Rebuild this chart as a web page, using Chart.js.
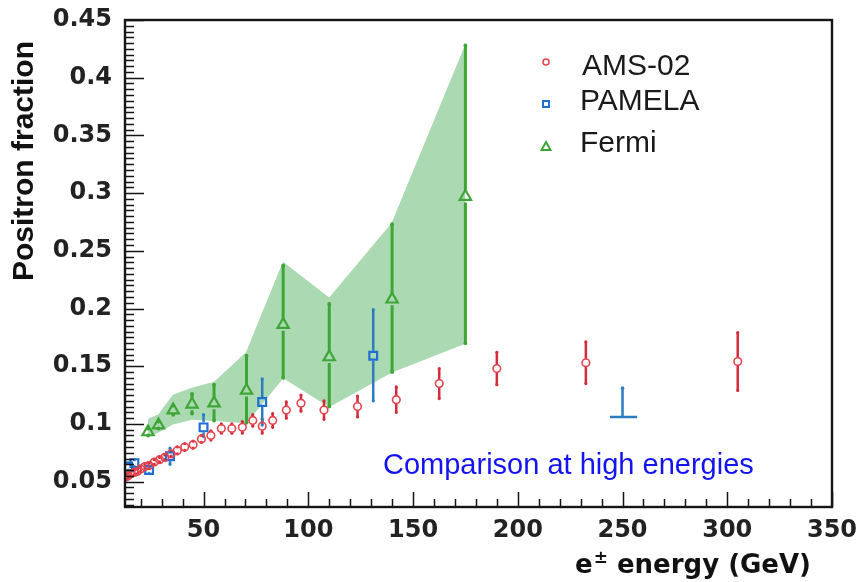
<!DOCTYPE html>
<html>
<head>
<meta charset="utf-8">
<title>Positron fraction</title>
<script src="https://cdn.jsdelivr.net/npm/chart.js@4.4.1/dist/chart.umd.min.js"></script>
<style>
  html, body { margin: 0; padding: 0; background: #fff; }
  canvas { display: block; }
</style>
</head>
<body>
<canvas id="chart" width="861" height="582"></canvas>
<script>
// AMS-02
const amsEnergy = [13, 14, 15.5, 17, 18.5, 20, 22, 24, 26.5, 29, 31.5, 34.5, 37.5, 41, 45, 49,
  53.5, 58.5, 63.5, 68.5, 73.5, 78, 83, 89.5, 96.5, 107.5, 123.5, 142, 162.5, 190, 232.5, 305];
const amsValue = [0.054, 0.055, 0.057, 0.058, 0.059, 0.061, 0.063, 0.064, 0.067, 0.069, 0.071, 0.074,
  0.077, 0.080, 0.082, 0.087, 0.090, 0.096, 0.096, 0.097, 0.103, 0.098, 0.103, 0.112, 0.118, 0.112,
  0.115, 0.121, 0.135, 0.148, 0.153, 0.154];
const amsError = [0.002, 0.002, 0.002, 0.002, 0.002, 0.002, 0.002, 0.002, 0.002, 0.002, 0.002, 0.002,
  0.003, 0.003, 0.003, 0.003, 0.004, 0.004, 0.004, 0.005, 0.005, 0.006, 0.006, 0.007, 0.007, 0.008,
  0.009, 0.011, 0.013, 0.014, 0.018, 0.025];

// PAMELA
const pamelaEnergy = [14, 17, 24, 34, 50, 78, 131];
const pamelaValue = [0.063, 0.066, 0.060, 0.072, 0.097, 0.119, 0.159];
const pamelaErrUp = [0.003, 0.003, 0.003, 0.007, 0.011, 0.020, 0.040];
const pamelaErrDown = [0.003, 0.003, 0.003, 0.007, 0.008, 0.020, 0.039];
// PAMELA 200-300 GeV bin (bar + arrow)
const pamelaLimitEnergy = 250;
const pamelaLimitBinLow = 244;
const pamelaLimitBinHigh = 257;
const pamelaLimitValue = 0.106;
const pamelaLimitTop = 0.131;

// Fermi
const fermiEnergy = [23.5, 28.5, 35.5, 44.5, 55, 70.5, 88, 110, 140, 175];
const fermiValue = [0.093, 0.099, 0.112, 0.117, 0.118, 0.129, 0.186, 0.158, 0.208, 0.297];
const fermiErrUp = [0.003, 0.003, 0.004, 0.009, 0.016, 0.030, 0.051, 0.046, 0.065, 0.131];
const fermiErrDown = [0.003, 0.003, 0.004, 0.008, 0.015, 0.028, 0.046, 0.043, 0.063, 0.127];
const fermiBandHigh = [0.104, 0.108, 0.125, 0.131, 0.136, 0.162, 0.240, 0.209, 0.274, 0.428];
const fermiBandLow = [0.089, 0.093, 0.100, 0.104, 0.103, 0.101, 0.140, 0.115, 0.145, 0.170];

// axes
const xTicks = [50, 100, 150, 200, 250, 300, 350];
const yTicks = [0.05, 0.1, 0.15, 0.2, 0.25, 0.3, 0.35, 0.4, 0.45];

const amsColor = '#e5434c';
const amsBarColor = '#d42c3c';
const pamelaColor = '#1d6fd4';
const pamelaBarColor = '#2b7cc0';
const fermiColor = '#3ea636';
const bandColor = '#abd9b2';

const toPoints = (xs, ys) => xs.map((v, i) => ({ x: v, y: ys[i] }));

// vertical error bar, leaving a gap where the marker sits
const drawBar = (ctx, px, yLow, yHigh, yMid, gap, color, width) => {
  ctx.strokeStyle = color;
  ctx.fillStyle = color;
  ctx.lineWidth = width;
  ctx.beginPath();
  if (yHigh < yMid - gap) { ctx.moveTo(px, yHigh); ctx.lineTo(px, yMid - gap); }
  if (yLow > yMid + gap) { ctx.moveTo(px, yMid + gap); ctx.lineTo(px, yLow); }
  ctx.stroke();
  ctx.beginPath();
  ctx.arc(px, yHigh, width * 0.65, 0, Math.PI * 2);
  ctx.arc(px, yLow, width * 0.65, 0, Math.PI * 2);
  ctx.fill();
};

const errorBarPlugin = {
  id: 'errorBars',
  beforeDatasetDraw(chart, args) {
    if (args.index !== 2) return; // after the band, before the markers
    const { ctx, scales: { x, y } } = chart;
    ctx.save();
    amsEnergy.forEach((e, i) => {
      drawBar(ctx, x.getPixelForValue(e), y.getPixelForValue(amsValue[i] - amsError[i]),
        y.getPixelForValue(amsValue[i] + amsError[i]), y.getPixelForValue(amsValue[i]), 4, amsBarColor, 2.5);
    });
    pamelaEnergy.forEach((e, i) => {
      drawBar(ctx, x.getPixelForValue(e), y.getPixelForValue(pamelaValue[i] - pamelaErrDown[i]),
        y.getPixelForValue(pamelaValue[i] + pamelaErrUp[i]), y.getPixelForValue(pamelaValue[i]), 5, pamelaBarColor, 2.5);
    });
    fermiEnergy.forEach((e, i) => {
      drawBar(ctx, x.getPixelForValue(e), y.getPixelForValue(fermiValue[i] - fermiErrDown[i]),
        y.getPixelForValue(fermiValue[i] + fermiErrUp[i]), y.getPixelForValue(fermiValue[i]), 6, fermiColor, 3);
    });
    // PAMELA last bin
    const lx = x.getPixelForValue(pamelaLimitEnergy);
    const ly = y.getPixelForValue(pamelaLimitValue);
    ctx.strokeStyle = pamelaBarColor;
    ctx.lineWidth = 2.5;
    ctx.beginPath();
    ctx.moveTo(x.getPixelForValue(pamelaLimitBinLow), ly);
    ctx.lineTo(x.getPixelForValue(pamelaLimitBinHigh), ly);
    ctx.moveTo(lx, ly);
    ctx.lineTo(lx, y.getPixelForValue(pamelaLimitTop));
    ctx.stroke();
    ctx.fillStyle = pamelaBarColor;
    ctx.beginPath();
    ctx.arc(lx, y.getPixelForValue(pamelaLimitTop), 1.8, 0, Math.PI * 2);
    ctx.fill();
    ctx.restore();
  }
};

// ROOT style frame with inward ticks
const framePlugin = {
  id: 'frame',
  afterDatasetsDraw(chart) {
    const { ctx, chartArea: a, scales: { x, y } } = chart;
    ctx.save();
    ctx.strokeStyle = '#151515';
    ctx.lineWidth = 1.5;
    ctx.beginPath();
    for (let k = Math.ceil(y.min / 0.005); k * 0.005 <= y.max + 1e-9; k++) {
      const py = Math.round(y.getPixelForValue(k * 0.005)) + 0.5;
      const len = k % 10 === 0 ? 19 : 9;
      ctx.moveTo(a.left, py);
      ctx.lineTo(a.left + len, py);
    }
    for (let k = Math.ceil(x.min / 10); k * 10 <= x.max; k++) {
      const px = Math.round(x.getPixelForValue(k * 10)) + 0.5;
      const len = k % 5 === 0 ? 15 : 8;
      ctx.moveTo(px, a.bottom);
      ctx.lineTo(px, a.bottom - len);
    }
    ctx.stroke();
    ctx.lineWidth = 2.4;
    ctx.strokeRect(a.left, a.top, a.right - a.left, a.bottom - a.top);
    ctx.restore();
  }
};

const textPlugin = {
  id: 'texts',
  afterDraw(chart) {
    const { ctx } = chart;
    ctx.save();
    ctx.fillStyle = '#111';
    // y title
    ctx.save();
    ctx.translate(33, 161);
    ctx.rotate(-Math.PI / 2);
    ctx.font = 'bold 30px "Liberation Sans", Arial, sans-serif';
    ctx.textAlign = 'center';
    ctx.textBaseline = 'alphabetic';
    ctx.fillText('Positron fraction', 0, 0);
    ctx.restore();

    // x title
    ctx.textAlign = 'left';
    ctx.textBaseline = 'alphabetic';
    let tx = 575;
    ctx.font = 'bold 26px "DejaVu Sans", sans-serif';
    ctx.fillText('e', tx, 573);
    tx += ctx.measureText('e').width + 1;
    ctx.font = 'bold 17px "DejaVu Sans", sans-serif';
    ctx.fillText('\u00b1', tx, 563);
    tx += ctx.measureText('\u00b1').width;
    ctx.font = 'bold 26px "DejaVu Sans", sans-serif';
    ctx.fillText(' energy (GeV)', tx, 573);

    // legend
    ctx.font = '30px "Liberation Sans", Arial, sans-serif';
    ctx.fillStyle = '#1a1a1a';
    ctx.fillText('AMS-02', 582, 75);
    ctx.fillText('PAMELA', 580, 110);
    ctx.fillText('Fermi', 580, 152);
    ctx.lineWidth = 1.5;
    ctx.strokeStyle = amsColor;
    ctx.beginPath();
    ctx.arc(546, 62, 3, 0, Math.PI * 2);
    ctx.stroke();
    ctx.lineWidth = 2;
    ctx.strokeStyle = pamelaColor;
    ctx.strokeRect(543, 101, 6, 6);
    ctx.strokeStyle = fermiColor;
    ctx.beginPath();
    ctx.moveTo(546, 142);
    ctx.lineTo(550.5, 150);
    ctx.lineTo(541.5, 150);
    ctx.closePath();
    ctx.stroke();

    // annotation
    ctx.font = '29px "Liberation Sans", Arial, sans-serif';
    ctx.fillStyle = '#1414f0';
    ctx.fillText('Comparison at high energies', 383, 474);
    ctx.restore();
  }
};

const tickFont = { family: '"DejaVu Sans", sans-serif', weight: 'bold', size: 24 };

new Chart(document.getElementById('chart'), {
  type: 'scatter',
  data: {
    datasets: [
      {
        label: 'AMS-02',
        data: toPoints(amsEnergy, amsValue),
        pointStyle: 'circle',
        pointRadius: 3.8,
        borderWidth: 1.6,
        borderColor: amsColor,
        backgroundColor: 'rgba(255,255,255,0)'
      },
      {
        label: 'PAMELA',
        data: toPoints(pamelaEnergy, pamelaValue),
        pointStyle: 'rect',
        pointRadius: 5.5,
        borderWidth: 2.2,
        borderColor: pamelaColor,
        backgroundColor: 'rgba(255,255,255,0)'
      },
      {
        label: 'Fermi',
        data: toPoints(fermiEnergy, fermiValue),
        pointStyle: 'triangle',
        pointRadius: 6.5,
        borderWidth: 2.2,
        borderColor: fermiColor,
        backgroundColor: 'rgba(255,255,255,0)'
      },
      {
        type: 'line',
        label: 'band low',
        data: toPoints(fermiEnergy, fermiBandLow),
        borderColor: bandColor,
        borderWidth: 1,
        pointRadius: 0,
        tension: 0,
        fill: false
      },
      {
        type: 'line',
        label: 'band high',
        data: toPoints(fermiEnergy, fermiBandHigh),
        borderColor: bandColor,
        borderWidth: 1,
        pointRadius: 0,
        tension: 0,
        backgroundColor: bandColor,
        fill: '-1'
      }
    ]
  },
  options: {
    responsive: false,
    animation: false,
    events: [],
    layout: { padding: { left: 0, right: 29, top: 20, bottom: 0 } },
    plugins: {
      legend: { display: false },
      tooltip: { enabled: false }
    },
    scales: {
      x: {
        type: 'linear',
        min: 12.5,
        max: 350,
        grid: { display: false },
        border: { display: false },
        afterBuildTicks: s => { s.ticks = xTicks.map(v => ({ value: v })); },
        afterFit: s => { s.height = 75; },
        ticks: { padding: 1, color: '#222', font: tickFont, maxRotation: 0, autoSkip: false }
      },
      y: {
        type: 'linear',
        min: 0.028,
        max: 0.45,
        grid: { display: false },
        border: { display: false },
        afterBuildTicks: s => { s.ticks = yTicks.map(v => ({ value: v })); },
        afterFit: s => { s.width = 125; },
        ticks: { padding: 5, color: '#222', font: tickFont, callback: v => String(v) }
      }
    }
  },
  plugins: [errorBarPlugin, framePlugin, textPlugin]
});
</script>
</body>
</html>
